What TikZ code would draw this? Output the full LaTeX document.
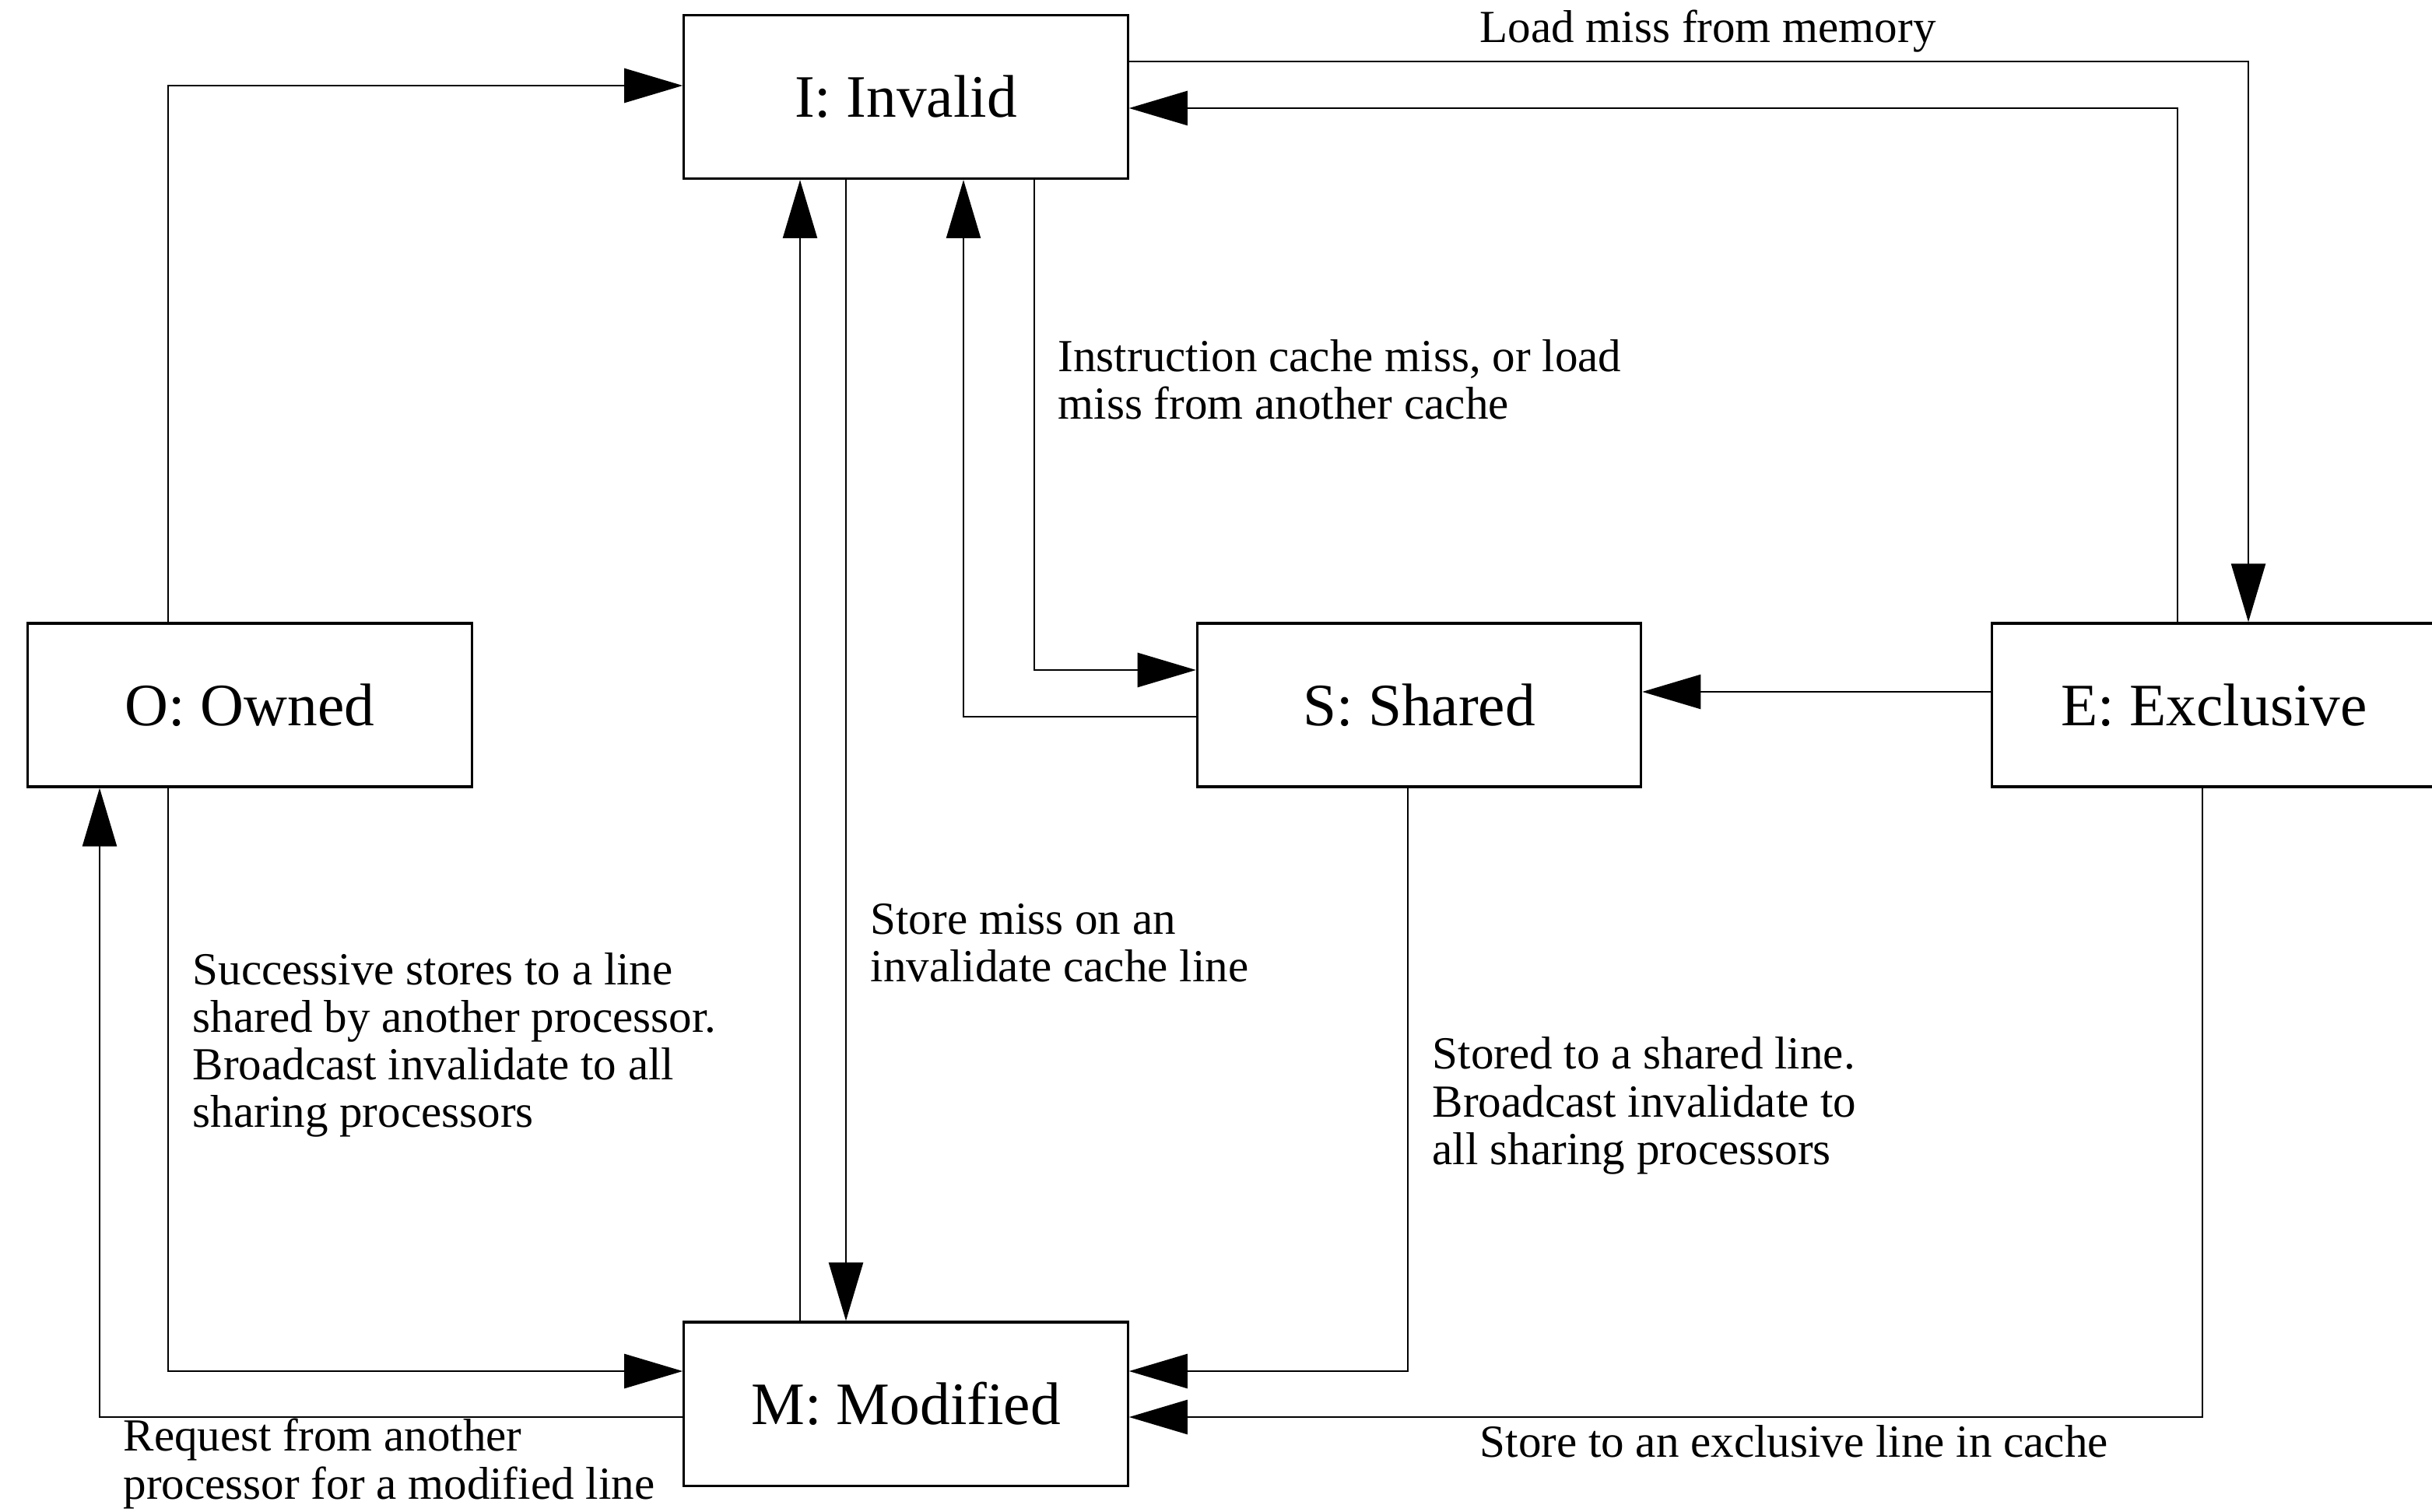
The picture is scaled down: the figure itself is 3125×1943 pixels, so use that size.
\documentclass[tikz,border=0pt]{standalone}
\usepackage{fontspec}
\setmainfont{Liberation Serif}
\usetikzlibrary{arrows.meta}
\begin{document}
\begin{tikzpicture}[x=0.01cm,y=-0.01cm,
  state/.style={draw,line width=0.9pt,inner sep=0pt,minimum width=5.7cm,minimum height=2.1cm,
    font=\fontsize{22}{26}\selectfont},
  arr/.style={line width=0.7pt,-{Triangle[length=7.5mm,width=4.4mm]}},
  lbl/.style={inner sep=0pt,align=left,anchor=west,font=\fontsize{16.8}{17.4}\selectfont}]
\useasboundingbox (0,0) rectangle (3125,1943);

% states
\node[state] (I) at (1164,124.5) {I: Invalid};
\node[state] (O) at (321,906) {O: Owned};
\node[state] (S) at (1823.5,906) {S: Shared};
\node[state] (E) at (2845,906) {E: Exclusive};
\node[state] (M) at (1164,1804) {M: Modified};

% bend points of the transitions
\coordinate (c1) at (216,110);
\coordinate (c2) at (2889,79);
\coordinate (c3) at (2798,139);
\coordinate (c4) at (1329,861);
\coordinate (c5) at (1238,921);
\coordinate (c6) at (1087,1000);
\coordinate (c7) at (1028,1000);
\coordinate (c8) at (216,1762);
\coordinate (c9) at (128,1821);
\coordinate (c10) at (1809,1762);
\coordinate (c11) at (2830,1821);
\coordinate (c12) at (2300,889);

% transitions
\draw[arr] (O.north -| c1) |- (I.west |- c1);
\draw[arr] (I.east |- c2) -| (E.north -| c2);
\draw[arr] (E.north -| c3) |- (I.east |- c3);
\draw[arr] (I.south -| c4) |- (S.west |- c4);
\draw[arr] (S.west |- c5) -| (I.south -| c5);
\draw[arr] (I.south -| c6) -- (M.north -| c6);
\draw[arr] (M.north -| c7) -- (I.south -| c7);
\draw[arr] (O.south -| c8) |- (M.west |- c8);
\draw[arr] (M.west |- c9) -| (O.south -| c9);
\draw[arr] (S.south -| c10) |- (M.east |- c10);
\draw[arr] (E.south -| c11) |- (M.east |- c11);
\draw[arr] (E.west |- c12) -- (S.east |- c12);

% transition labels
\node[lbl] (tLoad) at (1901,40) {Load miss from memory};
\node[lbl] (tInstr) at (1359,488) {Instruction cache miss, or load\\miss from another cache};
\node[lbl] (tStoreMiss) at (1118,1212) {Store miss on an\\invalidate cache line};
\node[lbl] (tSucc) at (247,1343) {Successive stores to a line\\shared by another processor.\\Broadcast invalidate to all\\sharing processors};
\node[lbl] (tShared) at (1840,1421) {Stored to a shared line.\\Broadcast invalidate to\\all sharing processors};
\node[lbl] (tExcl) at (1901,1852) {Store to an exclusive line in cache};
\node[lbl] (tReq) at (158,1881) {Request from another\\processor for a modified line};
\end{tikzpicture}
\end{document}
